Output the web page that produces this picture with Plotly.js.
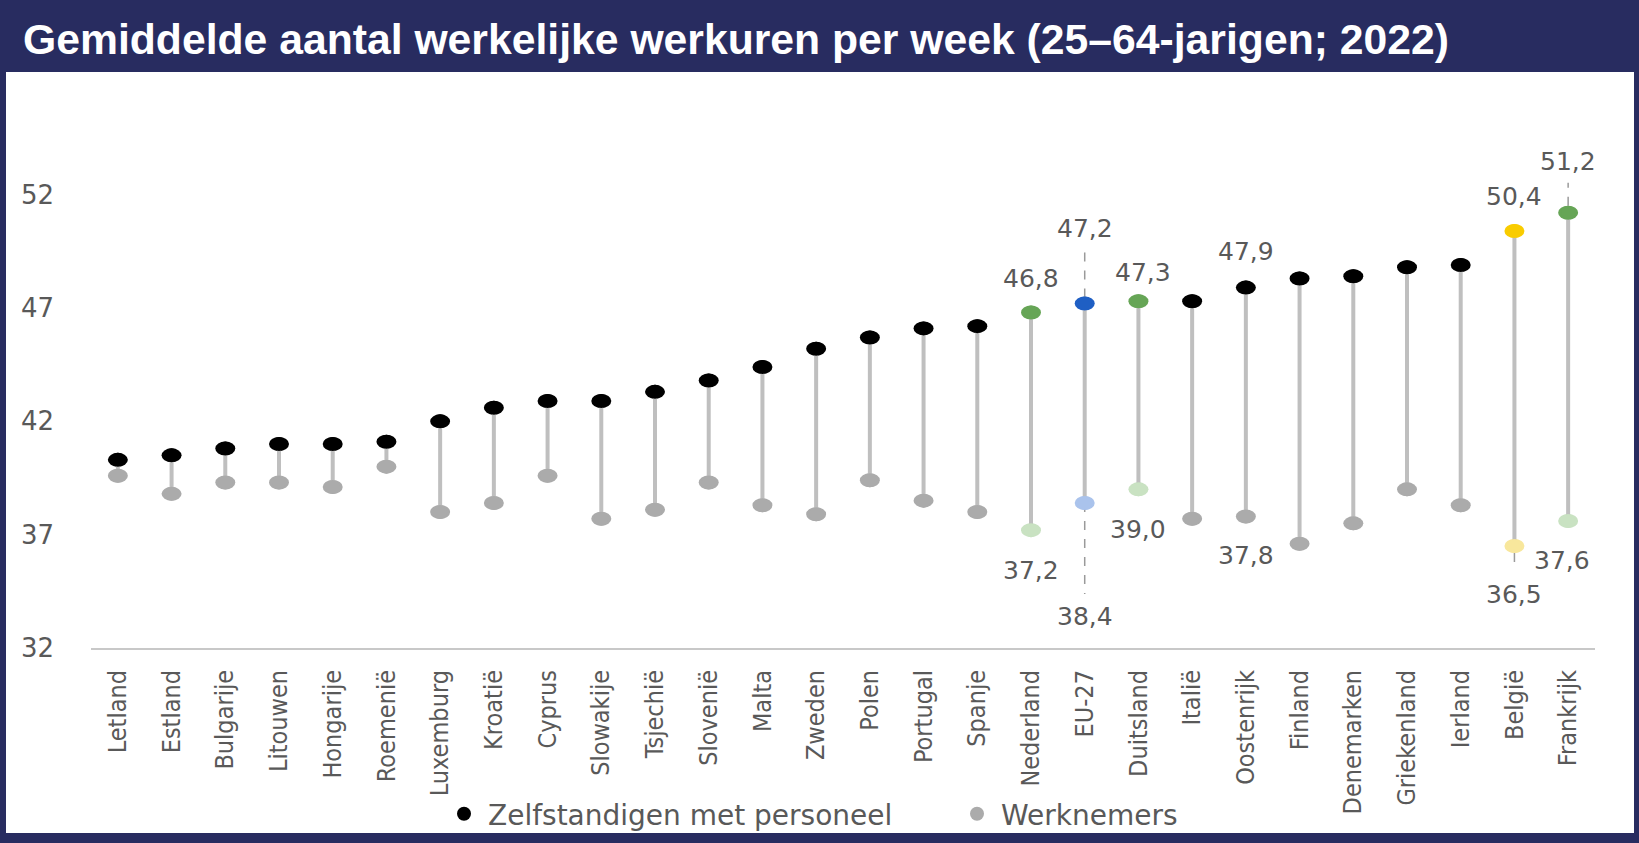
<!DOCTYPE html>
<html><head><meta charset="utf-8">
<script src="https://cdn.plot.ly/plotly-3.0.1.min.js"></script>
<style>html,body{margin:0;padding:0;background:#282c60;overflow:hidden}#chart{width:1639px;height:843px}</style>
</head><body><div id="chart"></div>
<script>
// ---------- data ----------
const categories = ['Letland','Estland','Bulgarije','Litouwen','Hongarije','Roemenië','Luxemburg','Kroatië','Cyprus','Slowakije','Tsjechië','Slovenië','Malta','Zweden','Polen','Portugal','Spanje','Nederland','EU-27','Duitsland','Italië','Oostenrijk','Finland','Denemarken','Griekenland','Ierland','België','Frankrijk'];
const zelfstandigen = [40.3,40.5,40.8,41.0,41.0,41.1,42.0,42.6,42.9,42.9,43.3,43.8,44.4,45.2,45.7,46.1,46.2,46.8,47.2,47.3,47.3,47.9,48.3,48.4,48.8,48.9,50.4,51.2];
const werknemers    = [39.6,38.8,39.3,39.3,39.1,40.0,38.0,38.4,39.6,37.7,38.1,39.3,38.3,37.9,39.4,38.5,38.0,37.2,38.4,39.0,37.7,37.8,36.6,37.5,39.0,38.3,36.5,37.6];
const seriesNames = ['Zelfstandigen met personeel','Werknemers'];
const yTickVals = [32,37,42,47,52];
const titleText = 'Gemiddelde aantal werkelijke werkuren per week (25–64-jarigen; 2022)';

// ---------- styles ----------
const W = 1639, H = 843;
const M = {l: 91, r: 44, t: 104, b: 195};
const navy = '#282c60';
const textGrey = '#595959';
const baseColors = ['#000000', '#ababab'];
const highlight = {
  'Nederland': ['#66a556', '#c9e2c2'],
  'EU-27':     ['#1f5fc4', '#aac3ec'],
  'Duitsland': ['#66a556', '#c9e2c2'],
  'België':    ['#f9cc00', '#f8e79c'],
  'Frankrijk': ['#66a556', '#c9e2c2']
};
const labelSpec = [
  {cat:'Nederland', s:0, dy:34},  {cat:'Nederland', s:1, dy:-40},
  {cat:'EU-27', s:0, dy:75},      {cat:'EU-27', s:1, dy:-114},
  {cat:'Duitsland', s:0, dy:29, dx:5}, {cat:'Duitsland', s:1, dy:-40},
  {cat:'Oostenrijk', s:0, dy:36}, {cat:'Oostenrijk', s:1, dy:-39},
  {cat:'België', s:0, dy:34},     {cat:'België', s:1, dy:-48},
  {cat:'Frankrijk', s:0, dy:51},  {cat:'Frankrijk', s:1, dy:-39, dx:-6}
];
const leaderSpec = [
  {cat:'EU-27', s:0, a:6, b:53},
  {cat:'EU-27', s:1, a:0, b:-91},
  {cat:'België', s:1, a:-7, b:-20},
  {cat:'Frankrijk', s:0, a:7, b:30}
];

const plotW = W - M.l - M.r, plotH = H - M.t - M.b;
const xp = px => (px - M.l) / plotW;
const yp = py => (H - M.b - py) / plotH;
const series = [zelfstandigen, werknemers];
const colorOf = (cat, s) => highlight[cat] ? highlight[cat][s] : baseColors[s];
const fmt = v => v.toFixed(1).replace('.', ',');

// connectors
const cx = [], cy = [];
categories.forEach((c, i) => { cx.push(c, c, null); cy.push(zelfstandigen[i], werknemers[i], null); });

const traces = [
  {type:'scatter', mode:'lines', x: cx, y: cy, line:{color:'#bfbfbf', width:4}, hoverinfo:'skip', showlegend:false}
];
[0, 1].forEach(s => {
  traces.push({
    type:'scatter', mode:'markers', name: seriesNames[s],
    x: categories, y: series[s],
    marker:{size:14, color: categories.map(c => colorOf(c, s)), line:{width:0}},
    hovertemplate:'%{x}: %{y}<extra>' + seriesNames[s] + '</extra>'
  });
});

const shapes = [
  {type:'rect', xref:'paper', yref:'paper', x0: xp(6), x1: xp(1634), y0: yp(833), y1: yp(72),
   fillcolor:'#ffffff', line:{width:0}, layer:'below'}
];
// elliptical dots
[0, 1].forEach(s => {
  categories.forEach((c, i) => {
    shapes.push({type:'circle', xref:'x', yref:'y', xsizemode:'pixel', ysizemode:'pixel',
      xanchor: c, yanchor: series[s][i], x0:-10, x1:10, y0:-7, y1:7,
      fillcolor: colorOf(c, s), line:{width:0}, layer:'below'});
  });
});
leaderSpec.forEach(d => {
  const i = categories.indexOf(d.cat);
  shapes.push({type:'line', xref:'x', yref:'y', ysizemode:'pixel', x0: d.cat, x1: d.cat,
    yanchor: series[d.s][i], y0: d.a, y1: d.b, line:{color:'#9a9a9a', width:1.5, dash:'dash'}, layer:'below'});
});

const annotations = labelSpec.map(d => {
  const i = categories.indexOf(d.cat);
  return {x: d.cat, y: series[d.s][i], xref:'x', yref:'y', text: fmt(series[d.s][i]),
    showarrow:false, yshift: d.dy, xshift: d.dx || 0,
    font:{family:'DejaVu Sans, sans-serif', size:25, color:textGrey}};
});

const layout = {
  width: W, height: H,
  margin: {l: M.l, r: M.r, t: M.t, b: M.b, pad: 0, autoexpand: false},
  paper_bgcolor: navy, plot_bgcolor: '#ffffff',
  title: {text: '<b>' + titleText + '</b>', xref:'container', yref:'container', x: 23 / W, xanchor:'left',
          y: 1 - 39 / H, yanchor:'middle',
          font:{family:'Liberation Sans, Arial, sans-serif', size:42.7, color:'#ffffff'}},
  xaxis: {type:'category', range:[-0.5, categories.length - 0.5], tickangle:-90,
          showline:true, linecolor:'#c8c8c8', linewidth:2, showgrid:false, zeroline:false, ticks:'',
          ticklabelstandoff: 10, fixedrange:true, automargin:false,
          tickfont:{family:'Liberation Sans Narrow, DejaVu Sans Condensed, sans-serif', size:25, color:textGrey}},
  yaxis: {range:[32, 56], tickvals: yTickVals, ticktext: yTickVals.map(String), showgrid:false, zeroline:false,
          showline:false, ticks:'', ticklabelstandoff: 36, fixedrange:true, automargin:false,
          tickfont:{family:'DejaVu Sans, sans-serif', size:26, color:textGrey}},
  showlegend: true,
  legend: {orientation:'h', xref:'container', yref:'container', x: 440 / W, xanchor:'left',
           y: 1 - 814 / H, yanchor:'middle',
           bgcolor:'rgba(0,0,0,0)', itemwidth: 38, entrywidth: 460, entrywidthmode:'pixels',
           font:{family:'DejaVu Sans, sans-serif', size:28, color:textGrey}},
  shapes: shapes,
  annotations: annotations,
  hovermode: 'closest'
};

Plotly.newPlot('chart', traces, layout, {displayModeBar:false, responsive:false});
</script>
</body></html>
